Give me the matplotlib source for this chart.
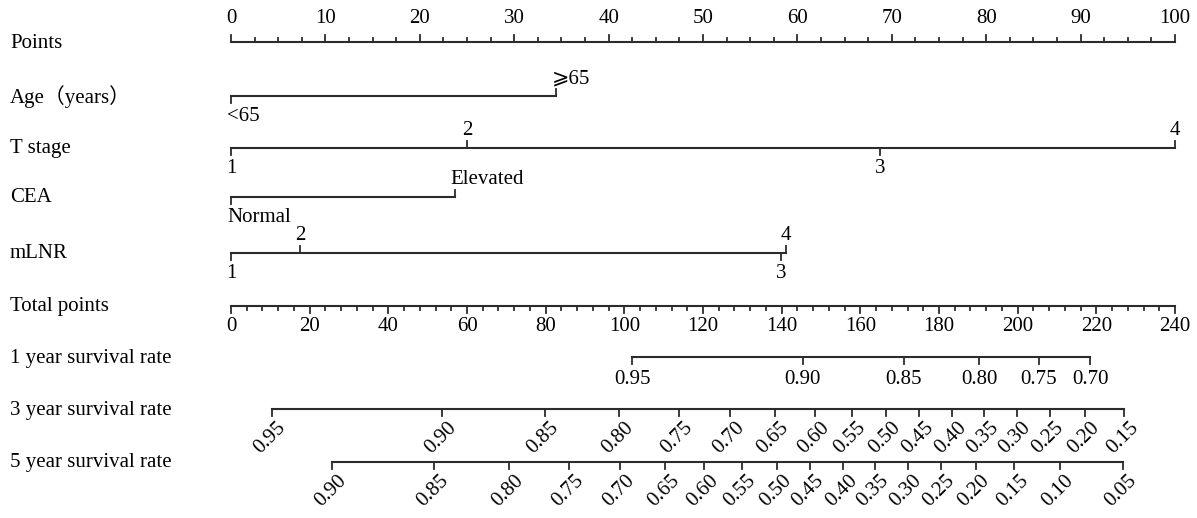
import matplotlib
matplotlib.use("Agg")
import matplotlib.pyplot as plt
import matplotlib.transforms as mtransforms
import numpy as np

plt.rcParams['font.family'] = ['Liberation Serif', 'DejaVu Serif', 'DejaVu Sans', 'Noto Sans CJK SC']

# row labels
row_names = ['Points', 'Age\uff08years\uff09', 'T stage', 'CEA', 'mLNR', 'Total points',
             '1 year survival rate', '3 year survival rate', '5 year survival rate']
row_y = [42, 96, 148, 197, 253, 306, 357, 409, 462]

# predictor scales (points 0-100)
age_labels = ['<65', '\u2a7e65']
age_points = [0, 34.4]
tstage_labels = ['1', '2', '3', '4']
tstage_points = [0, 25.0, 68.8, 100]
cea_labels = ['Normal', 'Elevated']
cea_points = [0, 23.7]
mlnr_labels = ['1', '2', '3', '4']
mlnr_points = [0, 7.3, 58.3, 58.8]

# survival scales (total points 0-240)
surv1_labels = ['0.95', '0.90', '0.85', '0.80', '0.75', '0.70']
surv1_total = [102.0, 145.3, 171.1, 190.2, 205.4, 218.4]
surv3_labels = ['0.95', '0.90', '0.85', '0.80', '0.75', '0.70', '0.65', '0.60', '0.55',
                '0.50', '0.45', '0.40', '0.35', '0.30', '0.25', '0.20', '0.15']
surv3_total = [10.4, 53.7, 79.8, 98.7, 113.8, 126.9, 138.2, 148.5, 157.8,
               166.6, 175.0, 183.4, 191.5, 199.8, 208.2, 217.1, 227.1]
surv5_labels = ['0.90', '0.85', '0.80', '0.75', '0.70', '0.65', '0.60', '0.55', '0.50',
                '0.45', '0.40', '0.35', '0.30', '0.25', '0.20', '0.15', '0.10', '0.05']
surv5_total = [25.8, 51.7, 70.8, 86.0, 98.9, 110.4, 120.3, 129.9, 138.8,
               147.2, 155.6, 163.7, 172.1, 180.4, 189.3, 199.1, 210.7, 226.7]

TOTAL_MAX = 240.0
lc = '#2b2b2b'
fs = 15

fig = plt.figure(figsize=(11.97, 5.18), dpi=100)
ax = fig.add_axes([0, 0, 1, 1])
ppu = 944 / 100.0  # pixels per point unit
ax.set_xlim(-231 / ppu, 100 + (1197 - 1175) / ppu)
ax.set_ylim(518, 0)
ax.axis('off')

lab_tr = mtransforms.blended_transform_factory(fig.transFigure, ax.transData)
for name, y in zip(row_names, row_y):
    ax.text(10 / 1197, y + 1, name, transform=lab_tr, fontsize=fs, va='center', ha='left')


def tot(v):
    return np.asarray(v) * 100.0 / TOTAL_MAX


# Points axis
y = row_y[0]
ax.plot([0, 100], [y, y], color=lc, lw=1.5)
for v in np.arange(0, 100.01, 2.5):
    major = abs(v % 10) < 1e-6
    ax.plot([v, v], [y, y - (7 if major else 4)], color=lc, lw=1.3)
    if major:
        ax.text(v, y - 14, f'{int(v)}', fontsize=fs, ha='center', va='bottom')


def var_scale(y, pts, labels, up):
    ax.plot([min(pts), max(pts)], [y, y], color=lc, lw=1.5)
    for p, lab, u in zip(pts, labels, up):
        d = -7 if u else 7
        ax.plot([p, p], [y, y + d], color=lc, lw=1.3)
        if lab.isdigit():
            ha, px = 'center', p
        else:
            ha, px = 'left', p - 4 / ppu
        if u:
            ax.text(px, y - 8, lab, fontsize=fs, ha=ha, va='bottom')
        else:
            ax.text(px, y + 11, lab, fontsize=fs, ha=ha, va='top')


var_scale(row_y[1], age_points, age_labels, [False, True])
var_scale(row_y[2], tstage_points, tstage_labels, [False, True, False, True])
var_scale(row_y[3], cea_points, cea_labels, [False, True])
var_scale(row_y[4], mlnr_points, mlnr_labels, [False, True, False, True])

# Total points axis
y = row_y[5]
ax.plot([0, 100], [y, y], color=lc, lw=1.5)
for v in np.arange(0, 241, 4):
    major = v % 20 == 0
    ax.plot(tot([v, v]), [y, y + (7 if major else 4)], color=lc, lw=1.3)
    if major:
        ax.text(tot(v), y + 11, f'{int(v)}', fontsize=fs, ha='center', va='top')

# 1 year survival
y = row_y[6]
xs = tot(surv1_total)
ax.plot([xs.min(), xs.max()], [y, y], color=lc, lw=1.5)
for x, lab in zip(xs, surv1_labels):
    ax.plot([x, x], [y, y + 7], color=lc, lw=1.3)
    ax.text(x, y + 13, lab, fontsize=fs, ha='center', va='top')

# 3 / 5 year survival with rotated labels
for y, tv, labs in [(row_y[7], surv3_total, surv3_labels), (row_y[8], surv5_total, surv5_labels)]:
    xs = tot(tv)
    ax.plot([xs.min(), xs.max()], [y, y], color=lc, lw=1.5)
    for x, lab in zip(xs, labs):
        ax.plot([x, x], [y, y + 7], color=lc, lw=1.3)
        ax.text(x + 0.5, y + 9, lab, fontsize=fs, ha='right', va='top',
                rotation=45, rotation_mode='anchor')

fig.savefig('out.png', dpi=100)
